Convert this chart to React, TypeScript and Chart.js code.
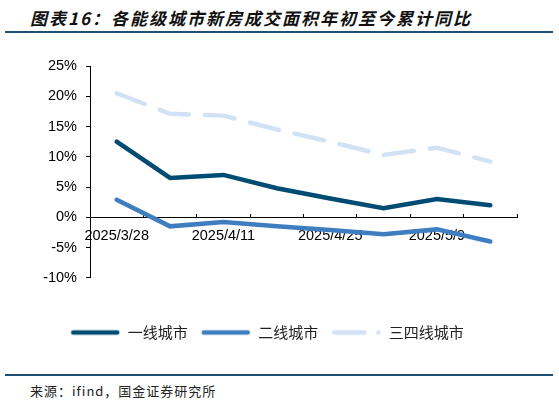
import React, { useRef, useEffect } from 'react';
import { Chart, registerables } from 'chart.js';

Chart.register(...registerables);

const DATES = ['2025/3/28', '2025/4/4', '2025/4/11', '2025/4/18', '2025/4/25', '2025/5/2', '2025/5/9', '2025/5/16'];
const TIER1 = [12.5, 6.5, 7.0, 4.8, 3.1, 1.5, 3.0, 2.0];
const TIER2 = [2.9, -1.5, -0.8, -1.5, -2.1, -2.8, -2.0, -4.0];
const TIER34 = [20.5, 17.1, 16.8, 14.5, 12.5, 10.3, 11.5, 9.2];

const TITLE = '图表16：各能级城市新房成交面积年初至今累计同比';
const SOURCE = '来源：ifind，国金证券研究所';
const RULE = '#1d4f72';
const CJK = '"Noto Sans CJK SC", sans-serif';
const LATIN = '"Liberation Sans", Arial, sans-serif';
const SWATCH_W = 50;

// small canvas used as the legend marker so the dash pattern shows
function swatch(color: string, dashed: boolean) {
  const c = document.createElement('canvas');
  c.width = SWATCH_W;
  c.height = 8;
  const ctx = c.getContext('2d')!;
  ctx.strokeStyle = color;
  ctx.fillStyle = color;
  ctx.lineWidth = 4.5;
  ctx.lineCap = 'round';
  ctx.beginPath();
  ctx.moveTo(3, 4);
  ctx.lineTo(dashed ? 33 : SWATCH_W - 3, 4);
  ctx.stroke();
  if (dashed) {
    ctx.beginPath();
    ctx.arc(SWATCH_W - 3, 4, 2.3, 0, Math.PI * 2);
    ctx.fill();
  }
  return c;
}

export default function App() {
  const canvasRef = useRef<HTMLCanvasElement>(null);

  useEffect(() => {
    document.body.style.margin = '0';
    const canvas = canvasRef.current;
    if (!canvas) return;

    const chart = new Chart(canvas, {
      type: 'line',
      data: {
        labels: DATES,
        datasets: [
          { label: '一线城市', data: TIER1, borderColor: '#004b71', backgroundColor: '#004b71', borderWidth: 4.5, borderCapStyle: 'round', pointRadius: 0, tension: 0 },
          { label: '二线城市', data: TIER2, borderColor: '#3d7dc0', backgroundColor: '#3d7dc0', borderWidth: 4.5, borderCapStyle: 'round', pointRadius: 0, tension: 0 },
          { label: '三四线城市', data: TIER34, borderColor: '#d0e2f3', backgroundColor: '#d0e2f3', borderWidth: 4.5, borderCapStyle: 'round', borderDash: [30, 16], pointRadius: 0, tension: 0 },
        ],
      },
      options: {
        animation: false,
        responsive: true,
        maintainAspectRatio: false,
        layout: { padding: { left: 17, right: 17, top: 26, bottom: 0 } },
        plugins: {
          tooltip: { enabled: false },
          legend: {
            position: 'bottom',
            title: { display: true, text: ' ', font: { size: 1 }, padding: { top: 33, bottom: 0 } },
            labels: {
              usePointStyle: true,
              boxWidth: SWATCH_W,
              pointStyleWidth: SWATCH_W,
              padding: 13,
              color: '#222',
              font: { family: CJK, size: 15 },
              generateLabels: ch => {
                const items = Chart.defaults.plugins.legend.labels.generateLabels(ch);
                return items.map((it, i) => {
                  const ds: any = ch.data.datasets[i];
                  return { ...it, pointStyle: swatch(ds.borderColor, !!ds.borderDash) };
                });
              },
            },
          },
        },
        scales: {
          x: {
            type: 'category',
            position: { y: 0 },
            offset: true,
            border: { color: '#000', width: 1 },
            grid: { drawOnChartArea: false, offset: true, color: '#000', tickLength: -4 },
            ticks: {
              autoSkip: false,
              maxRotation: 0,
              padding: 14,
              color: '#000',
              font: { family: LATIN, size: 14.5 },
              callback: (_v, i) => (i % 2 === 0 ? DATES[i] : ''),
            },
          },
          y: {
            min: -10,
            max: 25,
            border: { color: '#000', width: 1 },
            grid: { drawOnChartArea: false, color: '#000', tickLength: 4 },
            ticks: {
              stepSize: 5,
              padding: 9,
              color: '#000',
              font: { family: LATIN, size: 14.5 },
              callback: v => `${v}%`,
            },
            afterFit: s => { s.width = 73; },
          },
        },
      },
    });

    return () => chart.destroy();
  }, []);

  return (
    <div style={{ position: 'relative', width: 559, height: 403, background: '#fff', overflow: 'hidden' }}>
      <div style={{ position: 'absolute', left: 30, top: 5, fontFamily: CJK, fontSize: 17, fontWeight: 700, fontStyle: 'italic', letterSpacing: 2, color: '#111', whiteSpace: 'nowrap' }}>
        {TITLE}
      </div>
      <div style={{ position: 'absolute', left: 5, right: 6, top: 31, height: 2, background: RULE }} />
      <div style={{ position: 'absolute', left: 0, top: 40, width: 534, height: 310 }}>
        <canvas ref={canvasRef} />
      </div>
      <div style={{ position: 'absolute', left: 5, right: 6, top: 374, height: 2, background: RULE }} />
      <div style={{ position: 'absolute', left: 30, top: 381, fontFamily: CJK, fontSize: 13, letterSpacing: 1, color: '#222', whiteSpace: 'nowrap' }}>
        {SOURCE}
      </div>
    </div>
  );
}
